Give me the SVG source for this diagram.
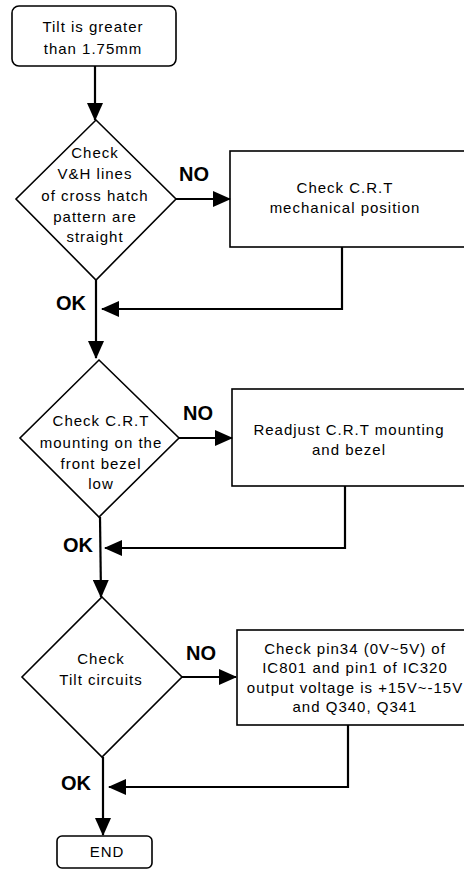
<svg xmlns="http://www.w3.org/2000/svg" width="464" height="870" viewBox="0 0 464 870">
<style>
  .shape { fill: #fff; stroke: #000; stroke-width: 1.6; }
  .t { font-family: "Liberation Sans", Arial, sans-serif; font-size: 15px; letter-spacing: 1px; text-anchor: middle; fill: #000; }
  .lbl { font-family: "Liberation Sans", Arial, sans-serif; font-size: 20px; font-weight: bold; text-anchor: middle; fill: #000; }
  .c { fill: none; stroke: #000; stroke-width: 2.2; }
</style>
<defs>
  <marker id="ah" markerUnits="userSpaceOnUse" markerWidth="18" markerHeight="16" viewBox="0 0 18 16" refX="17" refY="8" orient="auto">
    <path d="M0,0 L18,8 L0,16 Z" fill="#000"/>
  </marker>
</defs>
<rect width="464" height="870" fill="#fff"/>

<g id="start">
  <rect class="shape" x="12" y="6" width="164" height="60" rx="7"/>
  <text class="t" x="93" y="32">Tilt is greater</text>
  <text class="t" x="93" y="54">than 1.75mm</text>
</g>

<g id="d1">
  <polygon class="shape" points="96,120 176,199 96,280 16,199"/>
  <text class="t" x="95" y="158">Check</text>
  <text class="t" x="95" y="179">V&amp;H lines</text>
  <text class="t" x="95" y="201">of cross hatch</text>
  <text class="t" x="95" y="222">pattern are</text>
  <text class="t" x="95" y="242">straight</text>
</g>

<g id="box1">
  <rect class="shape" x="230" y="151" width="240" height="96"/>
  <text class="t" x="345" y="193">Check C.R.T</text>
  <text class="t" x="345" y="213">mechanical position</text>
</g>

<g id="d2">
  <polygon class="shape" points="99,360 179,438 99,517 20,438"/>
  <text class="t" x="101" y="426">Check C.R.T</text>
  <text class="t" x="101" y="448">mounting on the</text>
  <text class="t" x="101" y="469">front bezel</text>
  <text class="t" x="101" y="489">low</text>
</g>

<g id="box2">
  <rect class="shape" x="232" y="389" width="240" height="97"/>
  <text class="t" x="349" y="435">Readjust C.R.T mounting</text>
  <text class="t" x="349" y="455">and bezel</text>
</g>

<g id="d3">
  <polygon class="shape" points="102,597 182,677 102,757 22,677"/>
  <text class="t" x="101" y="664">Check</text>
  <text class="t" x="101" y="685">Tilt circuits</text>
</g>

<g id="box3">
  <rect class="shape" x="237" y="630" width="235" height="95"/>
  <text class="t" x="355" y="654">Check pin34 (0V~5V) of</text>
  <text class="t" x="355" y="673">IC801 and pin1 of IC320</text>
  <text class="t" x="355" y="693">output voltage is +15V~-15V</text>
  <text class="t" x="355" y="712">and Q340, Q341</text>
</g>

<g id="end">
  <rect class="shape" x="57" y="836" width="95" height="32" rx="5"/>
  <text class="t" x="107" y="857">END</text>
</g>

<g id="connectors">
  <line class="c" x1="95" y1="66" x2="95" y2="120" marker-end="url(#ah)"/>
  <line class="c" x1="176" y1="199" x2="230" y2="199" marker-end="url(#ah)"/>
  <polyline class="c" points="342,247 342,309 102,309" marker-end="url(#ah)"/>
  <line class="c" x1="96" y1="280" x2="96" y2="358" marker-end="url(#ah)"/>
  <line class="c" x1="179" y1="438" x2="232" y2="438" marker-end="url(#ah)"/>
  <polyline class="c" points="345,486 345,548 105,548" marker-end="url(#ah)"/>
  <line class="c" x1="100" y1="517" x2="101" y2="597" marker-end="url(#ah)"/>
  <line class="c" x1="182" y1="677" x2="236" y2="677" marker-end="url(#ah)"/>
  <polyline class="c" points="348,725 348,787 109,787" marker-end="url(#ah)"/>
  <line class="c" x1="103" y1="757" x2="103" y2="835" marker-end="url(#ah)"/>
  <text class="lbl" x="194" y="181">NO</text>
  <text class="lbl" x="71" y="310">OK</text>
  <text class="lbl" x="198" y="420">NO</text>
  <text class="lbl" x="78" y="552">OK</text>
  <text class="lbl" x="201" y="660">NO</text>
  <text class="lbl" x="76" y="790">OK</text>
</g>
</svg>
